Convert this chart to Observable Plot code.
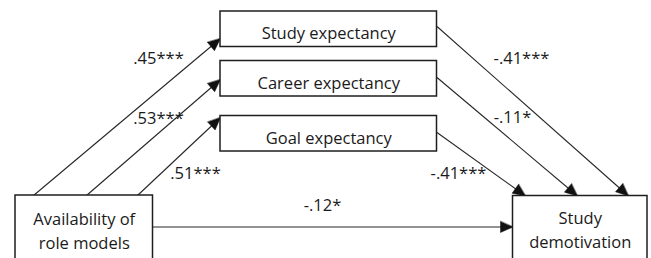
<!DOCTYPE html>
<html>
<head>
<meta charset="utf-8">
<script src="https://cdn.jsdelivr.net/npm/d3@7"></script>
<script src="https://cdn.jsdelivr.net/npm/@observablehq/plot@0.6"></script>
<style>
  html, body { margin: 0; padding: 0; background: #fff; }
  #chart { width: 651px; height: 258px; overflow: hidden; }
</style>
</head>
<body>
<div id="chart"></div>
<script>
// ---- Data ----
const predictor = "Availability of\nrole models";
const mediators = ["Study expectancy", "Career expectancy", "Goal expectancy"];
const outcome = "Study\ndemotivation";
const aPaths = [".45***", ".53***", ".51***"];      // predictor -> mediators
const bPaths = ["-.41***", "-.11*", "-.41***"];     // mediators -> outcome
const cPath = "-.12*";                               // direct effect

// ---- Layout (diagram geometry, in pixels) ----
const W = 651, H = 258;
const boxes = [
  {id: "pred", label: predictor, x1: 15, x2: 152.5, y1: 195, y2: 275, ty: 228.5},
  {id: "m0", label: mediators[0], x1: 220, x2: 436.5, y1: 11, y2: 46.5, ty: 31},
  {id: "m1", label: mediators[1], x1: 220, x2: 436.5, y1: 60.5, y2: 96, ty: 80.5},
  {id: "m2", label: mediators[2], x1: 220, x2: 436.5, y1: 115.5, y2: 151, ty: 135.5},
  {id: "out", label: outcome, x1: 512.5, x2: 647, y1: 195.5, y2: 275, ty: 227.5}
];
const aGeom = [
  {x1: 33, y1: 195, x2: 220, y2: 38, lx: 158, ly: 58},
  {x1: 86, y1: 195, x2: 220, y2: 79, lx: 158, ly: 118},
  {x1: 137, y1: 195, x2: 220, y2: 117, lx: 195, ly: 173}
];
const bGeom = [
  {x1: 436.5, y1: 26, x2: 628, y2: 195.5, lx: 521, ly: 58},
  {x1: 436.5, y1: 77, x2: 577, y2: 195.5, lx: 512, ly: 117},
  {x1: 436.5, y1: 132, x2: 525, y2: 195.5, lx: 458, ly: 173}
];
const cGeom = {x1: 152.5, y1: 226.5, x2: 512.5, y2: 226.5, lx: 322, ly: 205};

const arrows = [
  ...aGeom.map((g, i) => ({...g, label: aPaths[i], id: "a" + i})),
  ...bGeom.map((g, i) => ({...g, label: bPaths[i], id: "b" + i})),
  {...cGeom, label: cPath, id: "c"}
];

// arrowhead triangles derived from the arrow geometry
const HL = 12.5, HW = 5.5;
const heads = arrows.flatMap(a => {
  const dx = a.x2 - a.x1, dy = a.y2 - a.y1, len = Math.hypot(dx, dy);
  const ux = dx / len, uy = dy / len, nx = -uy, ny = ux;
  const bx = a.x2 - ux * HL, by = a.y2 - uy * HL;
  return [
    {id: a.id, x: a.x2, y: a.y2},
    {id: a.id, x: bx + nx * HW, y: by + ny * HW},
    {id: a.id, x: bx - nx * HW, y: by - ny * HW}
  ];
});

const font = "'Open Sans', sans-serif";
const chart = Plot.plot({
  width: W, height: H,
  marginTop: 0, marginRight: 0, marginBottom: 0, marginLeft: 0,
  x: {domain: [0, W], range: [0, W], axis: null},
  y: {domain: [0, H], range: [0, H], axis: null},
  style: {fontFamily: font, background: "#fff"},
  marks: [
    Plot.link(arrows, {x1: "x1", y1: "y1", x2: "x2", y2: "y2", stroke: "#262626", strokeWidth: 1.1}),
    Plot.line(heads, {x: "x", y: "y", z: "id", fill: "#111", stroke: "#111", strokeWidth: 0.5, curve: "linear-closed"}),
    Plot.rect(boxes, {x1: "x1", x2: "x2", y1: "y1", y2: "y2", fill: "#fff", stroke: "#1e1e1e", strokeWidth: 1.5}),
    Plot.text(boxes, {x: d => (d.x1 + d.x2) / 2, y: "ty", text: "label", fontSize: 16.5, fill: "#1a1a1a", lineHeight: 1.5, lineAnchor: "middle"}),
    Plot.text(arrows, {x: "lx", y: "ly", text: "label", fontSize: 16.5, fill: "#1a1a1a", lineAnchor: "middle"})
  ]
});
document.getElementById("chart").appendChild(chart);
</script>
</body>
</html>
